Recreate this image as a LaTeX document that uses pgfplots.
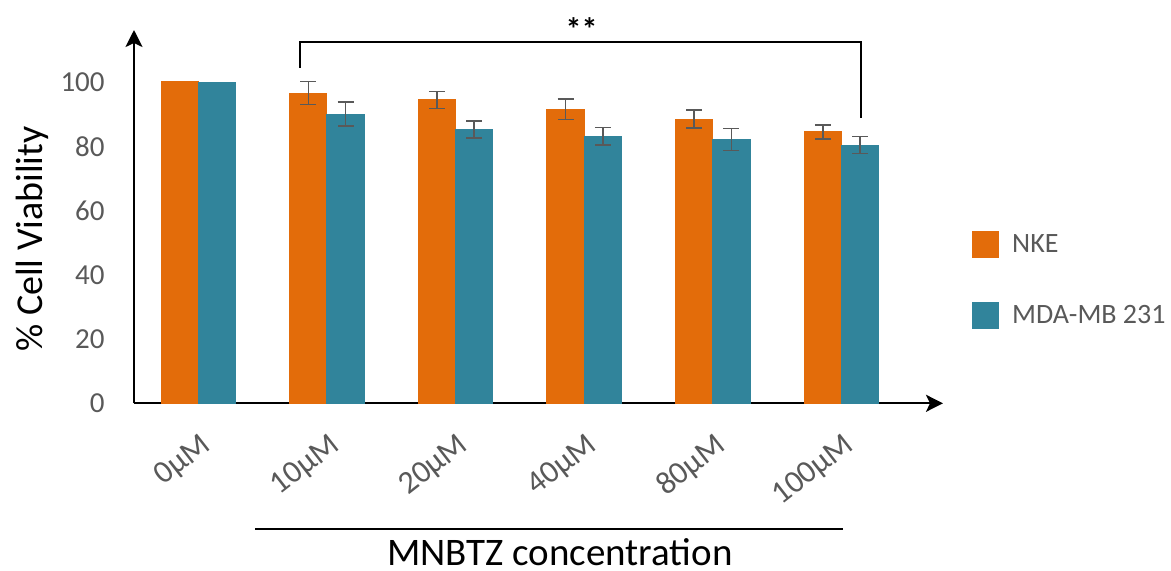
\documentclass[border=0pt]{standalone}
\usepackage{fontspec}
\setmainfont{Carlito}
\usepackage{pgfplots}
\pgfplotsset{compat=1.18}
\usetikzlibrary{arrows.meta}
\definecolor{nke}{HTML}{E36C0A}
\definecolor{mda}{HTML}{31849B}
\definecolor{tickgray}{HTML}{595959}
\pgfplotsset{
  errstyle/.style={
    error bars/.cd, y dir=both, y explicit, error mark=-,
    error bar style={line width=0.75pt, draw=tickgray, solid},
    error mark options={line width=0.75pt, draw=tickgray, mark size=4pt, solid, rotate=90}
  }
}
\begin{document}
\begin{tikzpicture}
\useasboundingbox (0,0) rectangle (585.5pt,285pt);
\begin{axis}[
  at={(67pt,83.35pt)}, anchor=south west,
  scale only axis, width=404.5pt, height=186.65pt,
  xmin=-0.5, xmax=5.79, ymin=0, ymax=116.4,
  axis lines=left,
  axis line style={line width=1pt, -{Stealth[length=8.5pt,width=8.5pt,inset=2pt]}},
  major tick length=0pt,
  xtick={0,1,2,3,4,5},
  xticklabels={0µM,10µM,20µM,40µM,80µM,100µM},
  ytick={0,20,40,60,80,100},
  /pgf/number format/assume math mode=true,
  yticklabel style={font=\fontsize{14.5}{17}\selectfont, text=tickgray, inner sep=0pt, xshift=-14.5pt},
  xticklabel style={font=\fontsize{16}{18}\selectfont, text=tickgray, inner sep=0pt, xshift=0.5pt, yshift=-14pt, rotate=38, anchor=north east},
  clip=false,
  legend style={at={(1.0358,0.4616)}, anchor=north west, draw=none, fill=none, inner sep=0pt,
    row sep=22pt, font=\fontsize{14}{16}\selectfont, text=tickgray,
    nodes={inner sep=0pt},
    /tikz/every odd column/.append style={column sep=6.5pt}},
  legend cell align=left,
]
\addlegendimage{legend image code/.code={\fill[nke] (0pt,-6.5pt) rectangle (13pt,6.5pt);}}
\addlegendentry{NKE}
\addlegendimage{legend image code/.code={\fill[mda] (0pt,-6.5pt) rectangle (13pt,6.5pt);}}
\addlegendentry{MDA-MB 231}
% bars
\addplot[forget plot, ybar, bar width=0.29, bar shift=-0.145, fill=nke, draw=nke, line width=0pt]
  coordinates {(0,100.4) (1,96.7) (2,94.6) (3,91.7) (4,88.6) (5,84.6)};
\addplot[forget plot, ybar, bar width=0.29, bar shift=0.145, fill=mda, draw=mda, line width=0pt]
  coordinates {(0,100.1) (1,90.2) (2,85.3) (3,83.3) (4,82.3) (5,80.5)};
% error bars (placed at the bar centres)
\addplot[forget plot, draw=none, mark=none, errstyle]
  coordinates {(0.855,96.7) +- (0,3.6) (1.855,94.6) +- (0,2.7) (2.855,91.7) +- (0,3.2) (3.855,88.6) +- (0,2.8) (4.855,84.6) +- (0,2.2)};
\addplot[forget plot, draw=none, mark=none, errstyle]
  coordinates {(1.145,90.2) +- (0,3.7) (2.145,85.3) +- (0,2.65) (3.145,83.3) +- (0,2.7) (4.145,82.3) +- (0,3.4) (5.145,80.5) +- (0,2.65)};
% significance bracket
\draw[line width=0.9pt] (axis cs:0.79,104.6) -- (axis cs:0.79,112.7) -- (axis cs:5.15,112.7) -- (axis cs:5.15,89.1);
\node[anchor=base, font=\fontsize{16}{18}\selectfont\bfseries, inner sep=0pt] at (axis cs:2.98,113.0) {**};
\end{axis}
\draw[line width=0.6pt] (127.5pt,20.5pt) -- (421.5pt,20.5pt);
\node[anchor=base, font=\fontsize{19.5}{22}\selectfont, inner sep=0pt] at (280pt,2.5pt) {MNBTZ concentration};
\node[rotate=90, font=\fontsize{19}{22}\selectfont, inner sep=0pt] at (16pt,165.5pt) {\% Cell Viability};
\end{tikzpicture}
\end{document}
